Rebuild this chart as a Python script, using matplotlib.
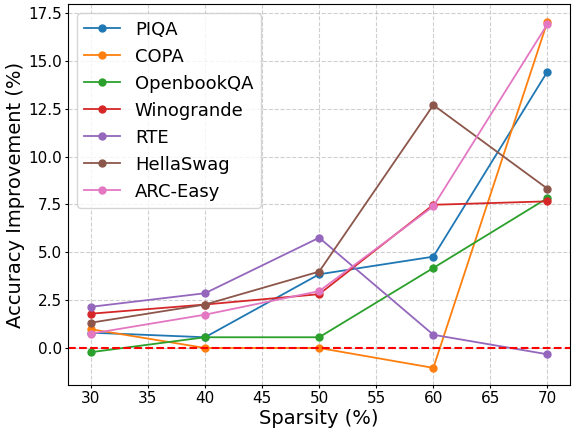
import matplotlib
matplotlib.use("Agg")
import matplotlib.pyplot as plt

sparsity = [30, 40, 50, 60, 70]

piqa = [0.80, 0.56, 3.85, 4.77, 14.44]
copa = [0.98, 0.00, 0.00, -1.04, 17.05]
openbookqa = [-0.22, 0.56, 0.56, 4.18, 7.83]
winogrande = [1.79, 2.27, 2.81, 7.48, 7.66]
rte = [2.15, 2.86, 5.76, 0.69, -0.33]
hellaswag = [1.32, 2.27, 3.99, 12.69, 8.32]
arc_easy = [0.75, 1.74, 2.97, 7.40, 16.92]

series = [
    ("PIQA", piqa),
    ("COPA", copa),
    ("OpenbookQA", openbookqa),
    ("Winogrande", winogrande),
    ("RTE", rte),
    ("HellaSwag", hellaswag),
    ("ARC-Easy", arc_easy),
]

fig, ax = plt.subplots(figsize=(5.72, 4.28), dpi=100)

for name, vals in series:
    ax.plot(sparsity, vals, marker='o', markersize=5, linewidth=1.3, label=name)

ax.axhline(0, color='red', linestyle='--', linewidth=1.5)

ax.set_xlabel("Sparsity (%)", fontsize=14, labelpad=2)
ax.set_ylabel("Accuracy Improvement (%)", fontsize=14, labelpad=2)
ax.tick_params(axis='both', labelsize=11, length=2.5, pad=2)
ax.grid(True, linestyle='--', alpha=0.6)
ax.legend(loc='upper left', fontsize=13)

fig.subplots_adjust(left=0.119, right=0.997, top=0.99, bottom=0.1)
fig.savefig("out.png")
